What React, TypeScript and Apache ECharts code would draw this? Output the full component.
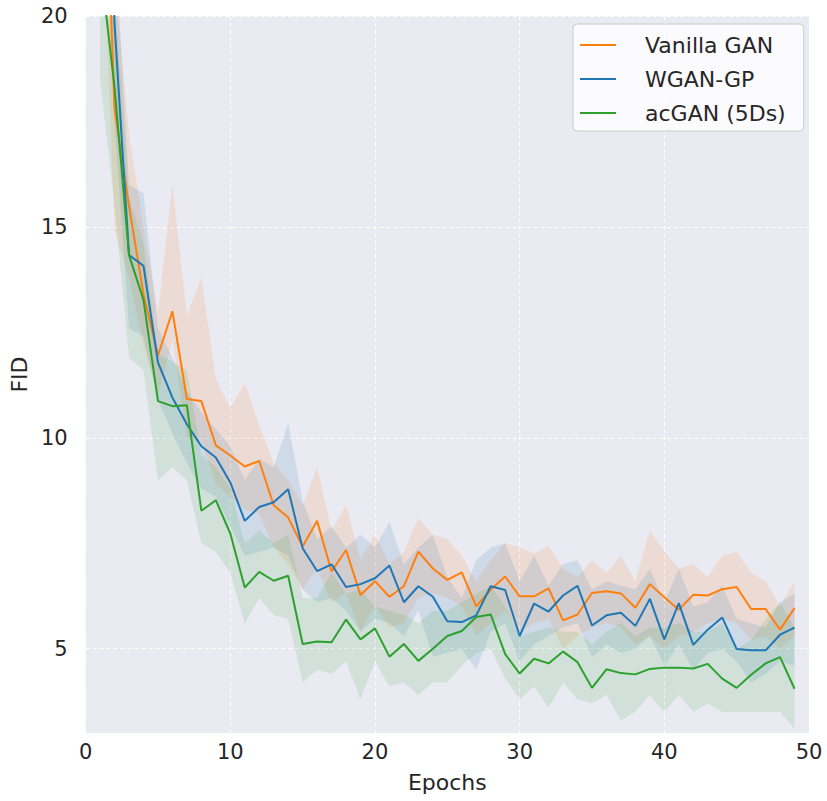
import React, { useEffect, useRef } from "react";
import * as echarts from "echarts";

const epochs = [1, 2, 3, 4, 5, 6, 7, 8, 9, 10, 11, 12, 13, 14, 15, 16, 17, 18, 19, 20, 21, 22, 23, 24, 25, 26, 27, 28, 29, 30, 31, 32, 33, 34, 35, 36, 37, 38, 39, 40, 41, 42, 43, 44, 45, 46, 47, 48, 49];

const seriesNames = ["Vanilla GAN", "WGAN-GP", "acGAN (5Ds)"];
const seriesColors = ["#ff7f0e", "#1f77b4", "#2ca02c"];

const vanillaMean = [27.0, 17.8, 15.5, 13.4, 11.95, 13.0, 10.92, 10.87, 9.82, 9.58, 9.32, 9.45, 8.4, 8.11, 7.42, 8.03, 6.83, 7.34, 6.27, 6.6, 6.23, 6.48, 7.3, 6.9, 6.63, 6.81, 6.0, 6.4, 6.71, 6.24, 6.24, 6.43, 5.67, 5.81, 6.32, 6.36, 6.31, 5.97, 6.53, 6.22, 5.92, 6.28, 6.26, 6.41, 6.46, 5.94, 5.94, 5.45, 5.96];
const vanillaLow = [24, 14.9, 13.8, 12.2, 11.0, 12.3, 10.0, 9.9, 8.9, 8.6, 8.3, 8.2, 7.4, 7.0, 6.4, 6.9, 6.1, 6.3, 5.4, 6.0, 5.5, 5.6, 6.2, 6.3, 6.2, 6.0, 5.3, 5.6, 5.9, 5.4, 5.6, 5.7, 5.0, 5.3, 5.5, 5.6, 5.5, 5.1, 5.3, 5.0, 5.3, 5.4, 5.6, 5.7, 5.6, 5.2, 5.3, 5.0, 5.3];
const vanillaHigh = [30, 21, 17.2, 15.0, 12.96, 16.0, 12.9, 13.8, 11.4, 10.7, 11.3, 10.3, 9.4, 9.0, 8.4, 9.3, 7.8, 8.4, 7.1, 7.7, 7.0, 7.3, 8.1, 7.7, 7.6, 7.2, 6.6, 7.1, 7.5, 7.4, 7.25, 7.44, 6.9, 6.7, 7.1, 6.8, 7.2, 6.6, 7.8, 7.3, 6.9, 7.0, 6.7, 7.2, 7.3, 6.8, 6.6, 6.0, 6.6];

const wganMean = [30, 19.8, 14.33, 14.08, 11.79, 10.95, 10.32, 9.8, 9.53, 8.94, 8.03, 8.36, 8.47, 8.78, 7.38, 6.84, 7.0, 6.46, 6.53, 6.67, 6.97, 6.1, 6.48, 6.23, 5.65, 5.63, 5.79, 6.48, 6.39, 5.3, 6.07, 5.88, 6.26, 6.49, 5.55, 5.79, 5.85, 5.54, 6.18, 5.22, 6.08, 5.09, 5.45, 5.74, 4.99, 4.96, 4.96, 5.33, 5.5];
const wganLow = [27, 17.5, 12.6, 12.4, 10.9, 10.1, 9.4, 8.8, 8.6, 7.9, 7.2, 7.3, 7.4, 7.2, 6.4, 6.1, 6.2, 5.9, 5.4, 5.7, 5.6, 5.3, 5.9, 4.8, 4.9, 5.0, 4.5, 5.4, 5.6, 4.7, 5.1, 5.3, 5.5, 5.6, 4.8, 5.1, 4.9, 5.0, 5.3, 4.6, 5.1, 4.5, 4.9, 5.0, 4.7, 4.2, 4.4, 4.7, 4.6];
const wganHigh = [33, 22, 16.0, 15.8, 12.6, 11.9, 11.1, 10.6, 10.2, 9.8, 9.0, 9.5, 9.3, 10.35, 8.5, 7.6, 7.9, 7.4, 7.7, 7.4, 8.0, 7.0, 7.4, 7.7, 6.7, 6.2, 7.1, 7.4, 7.5, 6.6, 7.2, 6.5, 7.0, 7.1, 6.4, 6.6, 6.5, 6.4, 6.9, 6.1, 6.9, 6.0, 6.1, 6.5, 5.7, 5.6, 5.5, 6.1, 6.3];

const acganMean = [21.3, 18.3, 14.33, 13.27, 10.87, 10.75, 10.77, 8.27, 8.52, 7.73, 6.45, 6.82, 6.61, 6.73, 5.11, 5.17, 5.15, 5.69, 5.22, 5.48, 4.81, 5.11, 4.71, 5.0, 5.3, 5.42, 5.75, 5.81, 4.87, 4.41, 4.76, 4.65, 4.93, 4.68, 4.07, 4.51, 4.42, 4.39, 4.52, 4.55, 4.55, 4.53, 4.64, 4.29, 4.07, 4.38, 4.65, 4.8, 4.05];
const acganLow = [18.5, 15.5, 11.9, 11.6, 9.0, 9.3, 9.0, 7.5, 7.3, 6.8, 5.6, 6.2, 5.8, 5.7, 4.2, 4.5, 4.4, 4.7, 3.8, 4.7, 4.1, 4.2, 3.9, 4.2, 4.2, 4.6, 4.9, 5.0, 4.3, 3.8, 4.1, 3.6, 4.2, 3.8, 3.7, 3.9, 3.3, 3.5, 3.9, 3.5, 3.9, 3.5, 3.7, 3.5, 3.5, 3.5, 3.5, 3.5, 3.1];
const acganHigh = [24, 20.5, 15.7, 14.6, 12.0, 11.8, 11.6, 9.6, 9.3, 8.8, 7.5, 7.8, 7.5, 7.7, 6.2, 6.2, 6.8, 6.3, 6.4, 6.0, 5.9, 5.8, 5.6, 5.9, 5.9, 6.1, 6.3, 6.5, 6.0, 5.3, 5.4, 5.5, 5.4, 5.4, 5.1, 5.4, 5.6, 5.3, 5.5, 5.5, 5.6, 5.4, 5.4, 5.6, 5.0, 5.2, 5.7, 6.1, 5.5];

const xTicks = [0, 10, 20, 30, 40, 50];
const yTicks = [5, 10, 15, 20];

const means = [vanillaMean, wganMean, acganMean];
const lows = [vanillaLow, wganLow, acganLow];
const highs = [vanillaHigh, wganHigh, acganHigh];

const FONT = "DejaVu Sans";
const TEXT = "#262626";

function bandColor(hex: string, a: number) {
  const r = parseInt(hex.slice(1, 3), 16);
  const g = parseInt(hex.slice(3, 5), 16);
  const b = parseInt(hex.slice(5, 7), 16);
  return `rgba(${r},${g},${b},${a})`;
}

export default function App() {
  const ref = useRef<HTMLDivElement>(null);
  useEffect(() => {
    if (!ref.current) return;
    const chart = echarts.init(ref.current, undefined, { renderer: "svg" });

    const bandSeries = seriesNames.map((name, i) => ({
      type: "custom",
      name: name + " band",
      silent: true,
      z: 1,
      data: epochs.map((e, k) => [e, lows[i][k], highs[i][k]]),
      encode: { x: 0, y: [1, 2] },
      renderItem: (params: any, api: any) => {
        if (params.dataIndex !== 0) return null;
        const upper: number[][] = [];
        const lower: number[][] = [];
        for (let k = 0; k < epochs.length; k++) {
          upper.push(api.coord([epochs[k], highs[i][k]]));
          lower.push(api.coord([epochs[k], lows[i][k]]));
        }
        const pts = upper.concat(lower.reverse());
        const cs = params.coordSys;
        return {
          type: "polygon",
          shape: { points: pts },
          style: { fill: bandColor(seriesColors[i], 0.13), stroke: "none" },
          clipPath: {
            type: "rect",
            shape: { x: cs.x, y: cs.y, width: cs.width, height: cs.height },
          },
        };
      },
    }));

    const lineSeries = seriesNames.map((name, i) => ({
      type: "line",
      name,
      data: epochs.map((e, k) => [e, means[i][k]]),
      symbol: "none",
      color: seriesColors[i],
      lineStyle: { width: 2, color: seriesColors[i] },
      z: 3,
    }));

    chart.setOption({
      animation: false,
      backgroundColor: "#ffffff",
      textStyle: { fontFamily: FONT, color: TEXT },
      grid: {
        left: 84,
        right: 18,
        top: 16,
        bottom: 68,
        show: true,
        backgroundColor: "#EAEAF2",
        borderWidth: 0,
      },
      legend: {
        data: seriesNames,
        orient: "vertical",
        left: 573,
        top: 24,
        icon: "rect",
        itemWidth: 36,
        itemHeight: 2,
        itemGap: 12,
        backgroundColor: "rgba(255,255,255,0.8)",
        borderColor: "#cccccc",
        borderWidth: 1,
        borderRadius: 4,
        padding: [10, 18, 7, 7],
        textStyle: {
          fontFamily: FONT,
          fontSize: 22,
          color: TEXT,
          lineHeight: 22,
          padding: [0, 0, 0, 24],
        },
      },
      xAxis: {
        type: "value",
        min: 0,
        max: 50,
        interval: 10,
        name: "Epochs",
        nameLocation: "middle",
        nameGap: 38,
        nameTextStyle: { fontFamily: FONT, fontSize: 22, color: TEXT },
        axisLine: { show: false },
        axisTick: { show: false },
        axisLabel: {
          fontFamily: FONT,
          fontSize: 21,
          color: TEXT,
          margin: 8,
          customValues: xTicks,
        },
        splitLine: {
          show: true,
          lineStyle: { color: "#ffffff", width: 1, type: [4, 3] },
        },
      },
      yAxis: {
        type: "value",
        min: 3,
        max: 20,
        name: "FID",
        nameLocation: "middle",
        nameGap: 47,
        nameRotate: 90,
        nameTextStyle: { fontFamily: FONT, fontSize: 22, color: TEXT },
        axisLine: { show: false },
        axisTick: { show: false, customValues: yTicks },
        axisLabel: {
          fontFamily: FONT,
          fontSize: 21,
          color: TEXT,
          margin: 18,
          customValues: yTicks,
        },
        splitLine: {
          show: true,
          lineStyle: { color: "#ffffff", width: 1, type: [4, 3] },
        },
      },
      series: [...bandSeries, ...lineSeries],
    });

    return () => chart.dispose();
  }, []);

  return (
    <div
      ref={ref}
      style={{ position: "absolute", left: 0, top: 0, width: 827, height: 801 }}
    />
  );
}
